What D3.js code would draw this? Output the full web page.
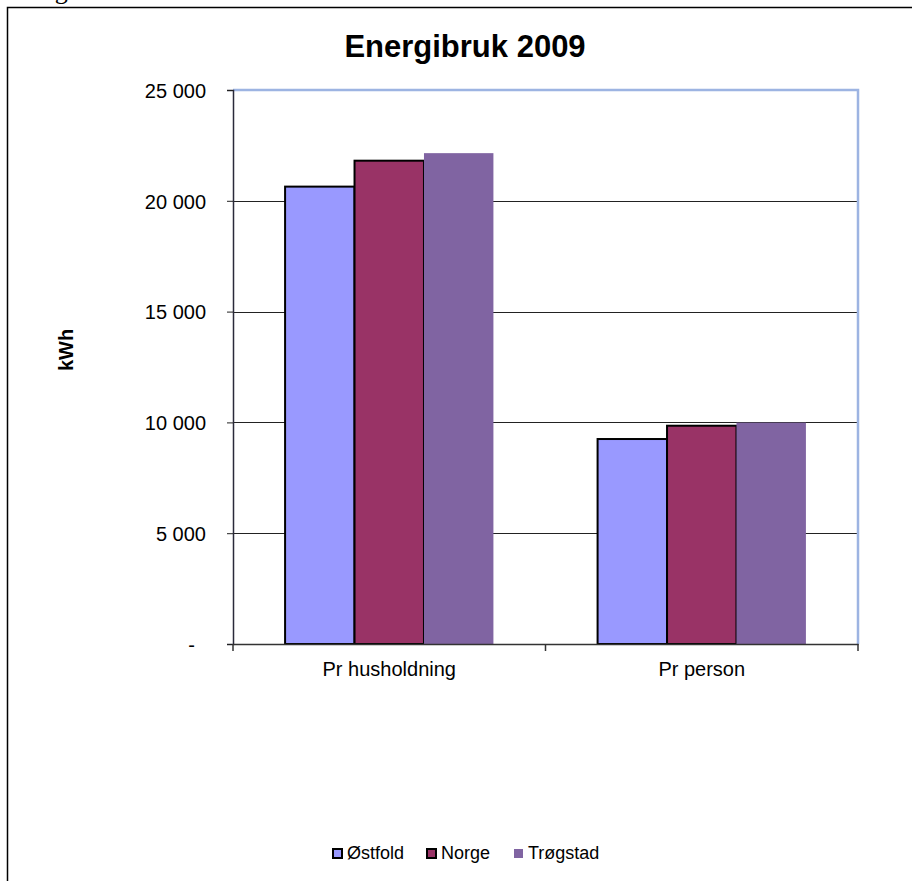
<!DOCTYPE html>
<html>
<head>
<meta charset="utf-8">
<script src="https://cdn.jsdelivr.net/npm/d3@7"></script>
<style>
  html, body { margin: 0; padding: 0; background: #fff; overflow: hidden; }
  svg { display: block; }
  text { font-family: "Liberation Sans", Arial, sans-serif; fill: #000; }
</style>
</head>
<body>
<svg id="chart" width="912" height="881"></svg>
<script>
const title = "Energibruk 2009";
const yAxisTitle = "kWh";
const categories = ["Pr husholdning", "Pr person"];
const seriesNames = ["Østfold", "Norge", "Trøgstad"];
const ostfold = [20640, 9250];
const norge = [21810, 9850];
const trogstad = [22150, 9990];
const yTicks = [0, 5000, 10000, 15000, 20000, 25000];

const seriesValues = [ostfold, norge, trogstad];
const colors = ["#9999FF", "#993366", "#8064A2"];
const strokes = ["#000", "#000", "none"];

const svg = d3.select("#chart");

// outer frame (left and top edges visible) and cut-off caption above
svg.append("text").attr("x", 33).attr("y", -1.5)
  .style("font-family", "'Liberation Serif', 'Times New Roman', serif")
  .style("font-size", "26px").text("Figur");
svg.append("path").attr("d", "M7.5,881V7.5H912")
  .attr("fill", "none").attr("stroke", "#000").attr("stroke-width", 1.5);

const pLeft = 233, pRight = 858, pTop = 90, pBottom = 644;

const x0 = d3.scaleBand().domain(categories).range([pLeft, pRight]).padding(0);
const x1 = d3.scaleBand().domain(seriesNames).range([0, x0.bandwidth()])
  .paddingInner(0).paddingOuter(0.75);
const y = d3.scaleLinear().domain([0, 25000]).range([pBottom, pTop]);

// gridlines
svg.append("g").selectAll("line").data(yTicks.filter(d => d > 0 && d < 25000)).join("line")
  .attr("x1", pLeft).attr("x2", pRight)
  .attr("y1", d => Math.round(y(d)) + 0.5).attr("y2", d => Math.round(y(d)) + 0.5)
  .attr("stroke", "#222").attr("stroke-width", 1);

// plot area border (top/right)
svg.append("path")
  .attr("d", `M${pLeft},${pTop}H${pRight}V${pBottom}`)
  .attr("fill", "none").attr("stroke", "#9DB4E2").attr("stroke-width", 2.5);

// bars
const groups = svg.append("g").selectAll("g").data(seriesNames).join("g");
groups.each(function(s, si) {
  d3.select(this).selectAll("rect").data(categories).join("rect")
    .attr("x", c => x0(c) + x1(s))
    .attr("y", (c, ci) => y(seriesValues[si][ci]))
    .attr("width", x1.bandwidth())
    .attr("height", (c, ci) => pBottom - y(seriesValues[si][ci]))
    .attr("fill", colors[si])
    .attr("stroke", strokes[si])
    .attr("stroke-width", 2);
});

// y axis
const yAxis = d3.axisLeft(y).tickValues(yTicks).tickSize(6).tickPadding(22)
  .tickFormat(d => d === 0 ? "-" : d3.format(",")(d).replace(/,/g, " "));
const yg = svg.append("g").attr("transform", `translate(${pLeft},0)`).call(yAxis);
yg.select(".domain").attr("stroke", "#2a2a3a").attr("stroke-width", 1.5);
yg.selectAll(".tick line").attr("stroke", "#222");
yg.selectAll(".tick text")
  .style("font-size", "20px").style("font-family", "'Liberation Sans', Arial, sans-serif")
  .attr("fill", "#222").attr("dy", "0.36em")
  .attr("x", d => d === 0 ? -38 : -27);

// x axis
const xAxis = d3.axisBottom(x0).tickSize(0).tickPadding(16);
const xg = svg.append("g").attr("transform", `translate(0,${pBottom})`).call(xAxis);
xg.select(".domain").attr("stroke", "#333").attr("stroke-width", 1.5);
xg.selectAll(".tick text").style("font-size", "20px")
  .style("font-family", "'Liberation Sans', Arial, sans-serif").attr("fill", "#222")
  .attr("y", 18).attr("dy", "0.71em");
// category boundary ticks
const bounds = [pLeft].concat(categories.map(c => x0(c) + x0.bandwidth()));
svg.append("g").selectAll("line").data(bounds).join("line")
  .attr("x1", d => d).attr("x2", d => d).attr("y1", pBottom).attr("y2", pBottom + 7)
  .attr("stroke", "#333").attr("stroke-width", 1.5);

// title
svg.append("text").attr("x", 465).attr("y", 57).attr("text-anchor", "middle")
  .style("font-size", "31px").style("font-weight", "bold").text(title);

// y axis title
svg.append("text").attr("transform", "translate(73,350) rotate(-90)")
  .attr("text-anchor", "middle").style("font-size", "20px").style("font-weight", "bold")
  .text(yAxisTitle);

// legend
const legendX = [332, 426, 513];
const lg = svg.append("g").selectAll("g").data(seriesNames).join("g")
  .attr("transform", (d, i) => `translate(${legendX[i]},848)`);
lg.append("rect").attr("x", 1).attr("y", 1).attr("width", 9).attr("height", 9)
  .attr("fill", (d, i) => colors[i]).attr("stroke", (d, i) => strokes[i]).attr("stroke-width", 2);
lg.append("text").attr("x", 15).attr("y", 11).style("font-size", "18px").attr("fill", "#222")
  .text(d => d);
</script>
</body>
</html>
